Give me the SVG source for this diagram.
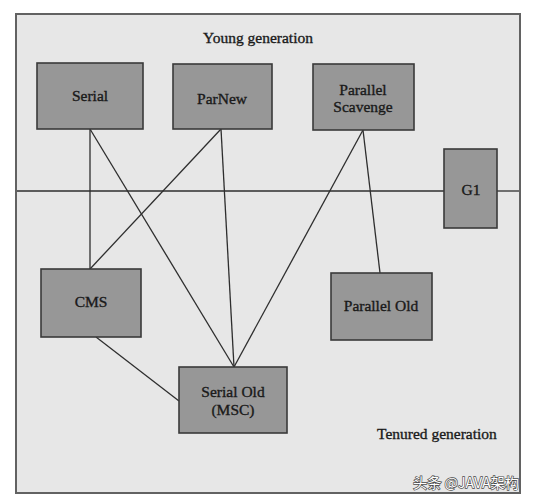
<svg xmlns="http://www.w3.org/2000/svg" width="533" height="502" viewBox="0 0 533 502">
  <style>
    .frame { fill: #e7e7e7; stroke: #626262; stroke-width: 2; }
    .box { fill: #979797; stroke: #3a3a3a; stroke-width: 1.6; }
    .lbl { font-family: "Liberation Serif", "Times New Roman", serif; font-size: 15.5px; fill: #1a1a1a; stroke: #1a1a1a; stroke-width: 0.35; text-anchor: middle; }
    .cap { font-family: "Liberation Serif", "Times New Roman", serif; font-size: 15.5px; fill: #1a1a1a; stroke: #1a1a1a; stroke-width: 0.35; }
    .conn line { stroke: #2e2e2e; stroke-width: 1.3; fill: none; }
    .wm { font-family: "Noto Sans CJK SC", "Noto Sans", sans-serif; font-size: 14px; fill: #ffffff; stroke: #4a4a4a; stroke-width: 1.3; paint-order: stroke; }
  </style>
  <rect x="0" y="0" width="533" height="502" fill="#ffffff"/>
  <rect class="frame" x="16" y="14" width="504" height="479"/>

  <text class="lbl" x="258" y="43">Young generation</text>
  <text class="cap" x="377" y="439">Tenured generation</text>

  <g class="conn" id="connectors">
    <line x1="17" y1="191" x2="444" y2="191"/>
    <line x1="497" y1="191" x2="519" y2="191"/>
    <line x1="90" y1="129" x2="90" y2="269"/>
    <line x1="90" y1="129" x2="234" y2="367"/>
    <line x1="221" y1="129" x2="90" y2="269"/>
    <line x1="221" y1="129" x2="234" y2="367"/>
    <line x1="363" y1="130" x2="234" y2="367"/>
    <line x1="363" y1="130" x2="380" y2="273"/>
    <line x1="96" y1="337" x2="179" y2="401"/>
  </g>

  <g id="serial">
    <rect class="box" x="37" y="63" width="106" height="66"/>
    <text class="lbl" x="90" y="101">Serial</text>
  </g>
  <g id="parnew">
    <rect class="box" x="173" y="64" width="99" height="65"/>
    <text class="lbl" x="222" y="104">ParNew</text>
  </g>
  <g id="parallel-scavenge">
    <rect class="box" x="313" y="64" width="101" height="66"/>
    <text class="lbl" x="363" y="95">Parallel</text>
    <text class="lbl" x="363" y="112">Scavenge</text>
  </g>
  <g id="g1">
    <rect class="box" x="444" y="149" width="53" height="79"/>
    <text class="lbl" x="471" y="195">G1</text>
  </g>
  <g id="cms">
    <rect class="box" x="41" y="269" width="100" height="68"/>
    <text class="lbl" x="91" y="307">CMS</text>
  </g>
  <g id="parallel-old">
    <rect class="box" x="331" y="273" width="101" height="67"/>
    <text class="lbl" x="381" y="311">Parallel Old</text>
  </g>
  <g id="serial-old">
    <rect class="box" x="179" y="367" width="108" height="66"/>
    <text class="lbl" x="233" y="397">Serial Old</text>
    <text class="lbl" x="233" y="415">(MSC)</text>
  </g>

  <text class="wm" x="413" y="488" textLength="106" lengthAdjust="spacingAndGlyphs">头条 @JAVA架构</text>
</svg>
